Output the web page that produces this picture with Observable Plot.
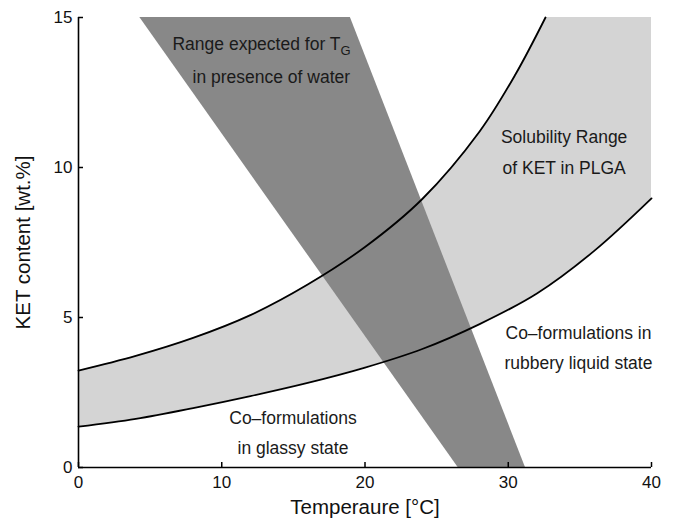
<!DOCTYPE html>
<html><head><meta charset="utf-8">
<script src="https://cdn.jsdelivr.net/npm/d3@7"></script>
<script src="https://cdn.jsdelivr.net/npm/@observablehq/plot@0.6"></script>
<style>body{margin:0;background:#fff}</style>
</head><body><div id="chart"></div>
<script>
// Upper bound of KET solubility in PLGA: temperature (°C) and content (wt.%)
const upperTemp = [0, 4, 8, 12, 16, 20, 24, 28, 30.5, 32.6];
const upperKET = [3.23, 3.72, 4.32, 5.08, 6.1, 7.35, 8.95, 11.2, 13.1, 15];
// Lower bound of KET solubility in PLGA
const lowerTemp = [0, 4, 8, 12, 16, 20, 24, 28, 32, 36, 40];
const lowerKET = [1.36, 1.62, 1.98, 2.38, 2.82, 3.33, 3.95, 4.78, 5.8, 7.22, 8.97];
// Range expected for T_G in presence of water: KET content vs. low / high Tg
const tgContent = [0, 15];
const tgLow = [26.5, 4.28];
const tgHigh = [31.2, 18.98];
// Axes
const xDomain = [0, 40];
const yDomain = [0, 15];
const xTicks = [0, 10, 20, 30, 40];
const yTicks = [0, 5, 10, 15];
const xLabel = "Temperaure [°C]";
const yLabel = "KET content [wt.%]";
// Annotation lines
const noteText = ["Range expected for T", "in presence of water", "Solubility Range", "of KET in PLGA",
  "Co–formulations in", "rubbery liquid state", "Co–formulations", "in glassy state"];
const noteX = [6.56, 7.96, 33.9, 33.9, 34.9, 34.9, 14.97, 14.97];
const noteY = [14.12, 13.0, 11.0, 9.98, 4.48, 3.48, 1.65, 0.65];
const noteAnchor = ["start", "start", "middle", "middle", "middle", "middle", "middle", "middle"];
const subscriptText = "G";

const upperRows = upperTemp.map((t, i) => ({t, v: upperKET[i]}));
const lowerRows = lowerTemp.map((t, i) => ({t, v: lowerKET[i]}));
const band = tgContent.map((w, i) => ({w, a: tgLow[i], b: tgHigh[i]}));
const notes = noteText.map((text, i) => ({text, x: noteX[i], y: noteY[i], anchor: noteAnchor[i]}));

const W = 673, H = 519, mL = 78, mR = 22, mT = 17, mB = 52, tickLen = 5;
const font = "'Liberation Sans', Arial, Helvetica, sans-serif";
const curve = "catmull-rom";
const chart = Plot.plot({
  width: W, height: H,
  marginLeft: mL, marginRight: mR, marginTop: mT, marginBottom: mB,
  style: {fontFamily: font, fontSize: "17px", color: "#111", background: "#fff", overflow: "visible"},
  x: {domain: xDomain},
  y: {domain: yDomain},
  marks: [
    // solubility range: fill above the lower bound, then blank out above the upper bound
    Plot.areaY(lowerRows, {x: "t", y1: "v", y2: () => yDomain[1], fill: "#d4d4d4", curve}),
    Plot.areaY(upperRows, {x: "t", y1: "v", y2: () => yDomain[1], fill: "#fff", curve}),
    Plot.areaX(band, {y: "w", x1: "a", x2: "b", fill: "#888888", clip: true}),
    Plot.line(upperRows, {x: "t", y: "v", stroke: "#000", strokeWidth: 1.8, curve}),
    Plot.line(lowerRows, {x: "t", y: "v", stroke: "#000", strokeWidth: 1.8, curve}),
    Plot.ruleX([xDomain[0]], {stroke: "#000", strokeWidth: 1.6}),
    Plot.ruleY([yDomain[0]], {stroke: "#000", strokeWidth: 1.6}),
    // inward tick marks
    Plot.tickX(xTicks, {x: d => d, stroke: "#000", strokeWidth: 1.5, insetTop: H - mT - mB - tickLen}),
    Plot.tickY(yTicks, {y: d => d, stroke: "#000", strokeWidth: 1.5, insetRight: W - mL - mR - tickLen}),
    // tick labels and axis titles
    Plot.axisX({ticks: xTicks, tickSize: 0, tickPadding: 8, fontSize: 17,
      label: xLabel, labelAnchor: "center", labelOffset: 46, labelArrow: "none"}),
    Plot.axisY({ticks: yTicks, tickSize: 0, tickPadding: 6, fontSize: 17,
      label: yLabel, labelAnchor: "center", labelOffset: 63, labelArrow: "none"}),
    Plot.text(notes.filter(d => d.anchor === "start"), {x: "x", y: "y", text: "text", textAnchor: "start",
      lineAnchor: "middle", fontSize: 17.5, fill: "#1a1a1a"}),
    Plot.text(notes.filter(d => d.anchor === "middle"), {x: "x", y: "y", text: "text", textAnchor: "middle",
      lineAnchor: "middle", fontSize: 17.5, fill: "#1a1a1a"})
  ]
});
// subscript G on T
d3.select(chart).selectAll("text").filter(function() { return this.textContent === noteText[0]; })
  .append("tspan").attr("dy", "0.4em").attr("font-size", 13).text(subscriptText);
d3.select(chart).selectAll("[aria-label='x-axis label'] text, [aria-label='y-axis label'] text").attr("font-size", 20.5);
document.getElementById("chart").append(chart);
</script>
</body></html>
